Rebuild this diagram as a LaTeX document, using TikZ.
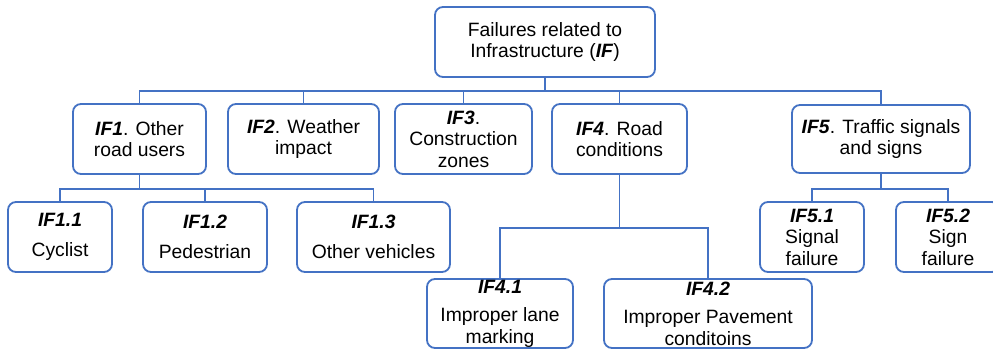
\documentclass[tikz,border=0pt]{standalone}
\usepackage{fontspec}
\setmainfont{Liberation Sans}
\definecolor{ln}{HTML}{4472C4}
\newcommand{\bfit}[1]{\textbf{\textit{#1}}}
\tikzset{
  box/.style={draw=ln, line width=1.8pt, rounded corners=8pt, align=center,
    font=\fontsize{19.3}{21.5}\selectfont, inner sep=0pt, fill=white},
  conn/.style={draw=ln, line width=1.8pt}
}
\begin{document}
\begin{tikzpicture}[x=1pt,y=-1pt]
\clip (0,0) rectangle (993,350);
\fill[white] (0,0) rectangle (993,350);
\node[box, minimum width=220pt, minimum height=70pt] (IF) at (545,42) {Failures related to\\Infrastructure (\bfit{IF})};
\node[box, minimum width=133pt, minimum height=70pt] (IF1) at (139.5,139) {\bfit{IF1}. Other\\road users};
\node[box, minimum width=151pt, minimum height=70pt] (IF2) at (303.5,139) {\bfit{IF2}. Weather\\impact};
\node[box, minimum width=137pt, minimum height=70pt] (IF3) at (463.5,139) {\bfit{IF3}.\\Construction\\zones};
\node[box, minimum width=135pt, minimum height=70pt] (IF4) at (619.5,139) {\bfit{IF4}. Road\\conditions};
\node[box, minimum width=178pt, minimum height=68pt] (IF5) at (881,139) {\bfit{IF5}. Traffic signals\\and signs};
\node[box, minimum width=104pt, minimum height=70pt] (IF11) at (60,237) {\bfit{IF1.1}\\[8pt]Cyclist};
\node[box, minimum width=124pt, minimum height=70pt] (IF12) at (205,237) {\bfit{IF1.2}\\[8pt]Pedestrian};
\node[box, minimum width=153pt, minimum height=70pt] (IF13) at (373.5,237) {\bfit{IF1.3}\\[8pt]Other vehicles};
\node[box, minimum width=146pt, minimum height=69pt] (IF41) at (500,313.5) {\bfit{IF4.1}\\[7pt]Improper lane\\marking};
\node[box, minimum width=208pt, minimum height=69pt] (IF42) at (708,313.5) {\bfit{IF4.2}\\[7pt]Improper Pavement\\conditoins};
\node[box, minimum width=104pt, minimum height=70pt] (IF51) at (812,237) {\bfit{IF5.1}\\Signal\\failure};
\node[box, minimum width=104pt, minimum height=70pt] (IF52) at (948,237) {\bfit{IF5.2}\\Sign\\failure};
% connectors
\foreach \c in {IF1,IF2,IF3,IF4,IF5}{
  \draw[conn] (IF.south) -- ++(0,13) -| (\c.north);
}
\foreach \c in {IF11,IF12,IF13}{
  \draw[conn] (IF1.south) -- ++(0,14) -| (\c.north);
}
\foreach \c in {IF41,IF42}{
  \draw[conn] (IF4.south) -- ++(0,53) -| (\c.north);
}
\foreach \c in {IF51,IF52}{
  \draw[conn] (IF5.south) -- ++(0,15) -| (\c.north);
}
\end{tikzpicture}
\end{document}
